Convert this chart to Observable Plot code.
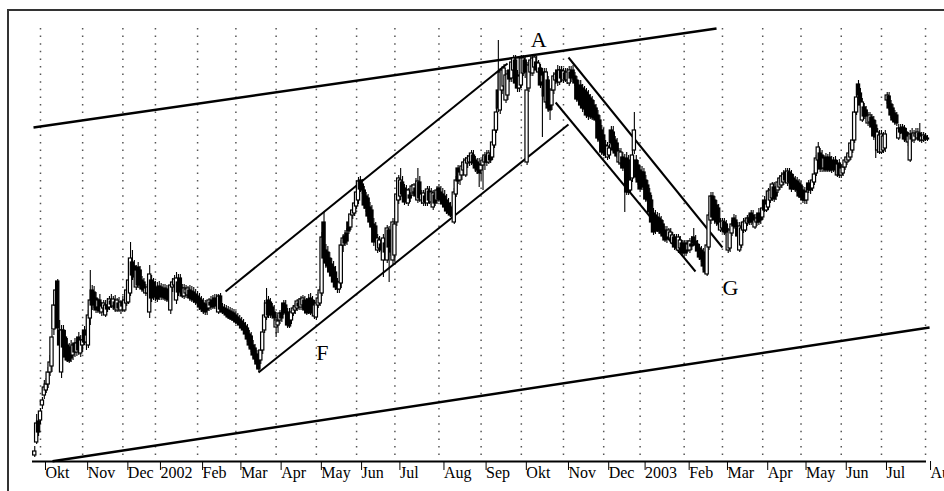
<!DOCTYPE html>
<html><head><meta charset="utf-8">
<script src="https://cdn.jsdelivr.net/npm/d3@7"></script>
<script src="https://cdn.jsdelivr.net/npm/@observablehq/plot@0.6"></script>
<style>
html,body{margin:0;padding:0;background:#fff;width:944px;height:491px;overflow:hidden;}
#frame{position:absolute;left:7px;top:9px;width:1200px;height:800px;border:2px solid #333;}
#chart{position:absolute;left:0;top:0;}
</style></head>
<body><div id="frame"></div><div id="chart"></div>
<script>
// Month tick labels and trading days per month (Okt 2001 .. Jul 2003); 3 September days precede
const monthLabels = ["Okt","Nov","Dec","2002","Feb","Mar","Apr","May","Jun","Jul","Aug","Sep","Okt","Nov","Dec","2003","Feb","Mar","Apr","May","Jun","Jul","Aug"];
const monthTradingDays = [22,21,17,22,20,21,21,21,20,23,22,21,22,21,19,23,20,21,20,21,21,23];
const leadingDays = 3;

// Daily OHLC (arbitrary price units), trading day index 0..466
const open = [
45,58,79,80,95,105,110,116,128,134,
171,195,219,170,128,170,163,155,150,153,
145,157,148,163,147,155,170,158,155,182,
210,208,202,193,200,188,192,185,195,193,
199,194,198,190,197,190,198,190,197,198,
207,238,234,213,233,230,220,218,207,207,
188,220,218,213,212,214,213,211,212,211,
210,190,213,215,200,218,222,212,204,207,
205,210,209,208,206,204,202,200,197,196,
194,192,198,200,202,200,188,204,193,192,
191,190,189,188,187,185,183,181,179,177,
174,172,166,164,155,152,146,145,140,150,
170,183,200,198,193,188,173,175,180,187,
197,195,188,186,180,187,190,192,197,193,
195,200,198,201,202,200,184,183,195,197,
207,278,250,248,242,236,233,228,218,211,
217,255,264,267,278,273,285,287,294,300,
320,316,310,304,302,293,290,276,274,250,
252,256,240,257,240,270,252,240,245,278,
300,304,318,312,310,297,305,307,308,312,
300,318,300,297,304,297,309,298,293,305,
300,312,308,306,304,300,297,293,290,278,
306,332,320,325,330,325,337,338,338,345,
340,338,336,330,335,338,344,338,345,343,
355,370,410,390,410,414,400,405,430,422,
430,440,425,412,415,427,440,338,412,428,
427,433,438,428,432,418,428,398,420,405,
395,410,420,430,418,430,420,427,420,417,
428,430,424,420,414,415,412,410,408,405,
402,400,395,392,385,380,370,365,355,343,
345,370,368,360,357,338,337,343,340,342,
340,310,322,350,340,335,330,328,328,320,
315,307,300,287,285,283,282,280,276,270,
268,263,262,257,263,262,250,252,257,256,
257,250,250,256,263,259,256,252,250,248,
242,226,253,280,304,300,295,292,270,272,
278,276,250,252,267,282,280,272,250,255,
270,270,277,282,287,285,273,278,287,285,
283,300,290,293,300,302,313,308,310,313,
315,318,328,317,328,326,322,320,319,317,
315,310,309,300,317,315,312,318,327,340,
347,345,332,343,342,343,340,339,340,325,
337,325,327,333,338,340,343,350,360,388,
416,407,380,393,390,377,378,383,380,375,
350,348,348,350,352,400,404,396,392,387,
385,362,372,373,372,368,358,340,366,360,
364,362,367,360,360,364,362];
const high = [
54,86,82,92,103,120,122,133,145,170,
200,215,221,180,175,175,170,162,157,160,
157,162,160,168,165,165,174,170,190,230,
215,214,208,202,206,198,200,200,202,204,
206,204,205,202,203,200,204,204,215,240,
258,250,240,235,238,234,224,222,216,217,
235,225,222,219,218,219,217,216,216,215,
215,218,222,225,228,226,226,216,216,215,
214,215,214,213,211,209,207,204,202,200,
200,202,204,205,206,206,206,207,197,196,
195,194,193,192,191,189,187,185,183,181,
178,176,170,168,160,156,150,148,152,172,
200,212,204,202,197,195,188,185,190,191,
200,200,192,192,190,195,197,201,202,204,
205,204,202,206,207,204,200,200,208,214,
268,288,256,254,248,242,239,234,222,220,
260,266,270,272,282,290,294,300,312,323,
324,321,314,308,306,298,295,282,278,266,
264,262,266,262,275,274,260,282,280,310,
325,332,324,316,315,312,312,316,317,322,
332,324,310,310,310,314,314,312,310,310,
314,316,314,312,310,306,302,298,295,312,
324,335,332,338,342,343,345,347,350,350,
344,342,342,340,344,348,350,350,352,360,
374,392,460,432,434,436,430,430,434,442,
445,445,430,428,445,445,444,438,440,444,
444,445,444,440,436,432,432,432,424,412,
415,428,430,435,434,434,432,432,432,434,
434,435,428,424,420,420,416,414,412,410,
406,404,400,396,390,385,375,372,360,358,
356,374,374,364,362,352,352,348,346,348,
345,324,350,388,345,340,334,334,332,325,
320,312,305,292,290,288,287,284,280,274,
274,272,272,268,266,266,266,264,260,260,
260,260,262,264,272,265,260,256,254,252,
248,260,288,308,308,304,300,296,282,282,
282,280,272,274,280,286,285,278,278,276,
282,282,285,286,290,290,286,286,292,290,
296,304,302,312,314,318,318,314,322,325,
328,330,332,332,332,330,326,324,323,321,
319,314,313,312,320,319,324,330,345,358,
352,350,345,347,346,348,344,343,344,340,
341,336,336,343,346,350,360,364,392,406,
420,412,402,397,394,388,388,386,384,380,
372,370,370,368,370,408,408,400,396,390,
388,376,376,376,375,372,368,370,372,370,
372,372,377,368,368,367,365];
const low = [
43,56,64,76,91,101,107,112,124,128,
165,190,168,148,122,150,140,138,137,138,
140,143,144,145,143,148,155,150,152,175,
190,192,187,187,186,184,187,183,188,190,
192,190,188,188,188,186,188,188,194,196,
204,220,220,210,212,212,208,207,204,203,
182,198,200,199,198,200,200,200,199,198,
198,186,208,210,196,204,206,202,201,202,
202,199,198,197,195,194,190,188,186,185,
185,189,190,191,191,190,186,188,186,185,
183,181,180,179,178,176,175,173,170,167,
163,158,152,148,142,138,132,128,136,146,
167,180,182,182,183,180,163,167,176,178,
185,184,172,172,176,184,186,189,190,190,
191,187,185,186,185,184,181,180,192,194,
204,238,232,232,225,220,215,210,207,207,
212,248,254,255,266,270,281,284,291,296,
308,306,291,288,281,275,270,254,254,247,
248,246,223,245,237,218,244,236,238,274,
296,300,302,295,296,294,298,304,304,300,
297,298,296,294,294,294,296,295,290,294,
296,298,296,293,290,286,285,283,282,276,
303,316,315,320,325,323,332,334,335,334,
328,326,313,320,310,330,334,336,337,340,
352,367,388,386,406,410,397,400,418,418,
426,414,408,408,412,424,422,335,408,424,
424,430,428,425,412,363,400,395,388,380,
390,406,416,414,415,418,417,418,416,414,
418,420,414,398,396,392,388,388,382,380,
381,380,380,378,358,357,345,344,342,340,
341,355,348,344,342,335,334,329,288,305,
305,306,318,346,320,315,308,310,310,298,
296,285,275,265,266,268,266,265,262,258,
257,260,259,254,250,251,247,248,244,244,
244,248,247,250,254,252,246,240,238,230,
226,224,250,276,280,276,274,272,268,268,
265,264,247,248,264,271,270,260,248,252,
267,268,274,275,275,276,271,274,275,276,
280,288,288,290,297,299,298,300,307,310,
312,315,318,314,315,308,310,308,307,302,
300,297,296,296,307,306,309,315,324,337,
328,328,328,328,328,328,327,328,328,323,
322,322,324,330,335,338,340,347,357,385,
402,392,378,381,381,374,375,371,360,342,
347,346,346,347,348,396,390,382,378,375,
374,360,366,365,358,358,354,338,358,357,
360,360,358,357,358,359,359];
const close = [
49,77,68,89,100,113,116,128,138,163,
195,210,172,155,170,153,143,140,139,142,
155,148,157,150,160,160,158,165,185,200,
195,196,190,200,189,194,197,195,191,201,
196,201,192,200,192,198,194,200,210,220,
242,225,223,230,215,216,211,210,212,213,
226,202,204,203,201,204,203,204,202,201,
200,215,218,221,222,208,209,204,212,211,
212,202,201,200,198,197,193,191,189,188,
190,200,195,193,194,195,204,191,188,187,
185,183,182,181,180,178,177,175,172,170,
166,161,155,151,145,141,136,131,150,168,
185,197,185,186,185,182,180,179,187,182,
187,188,175,174,188,192,194,199,194,201,
202,190,187,189,187,188,195,197,202,210,
263,242,237,234,228,224,218,213,211,218,
255,262,257,259,269,286,290,297,308,319,
311,310,295,292,284,278,273,258,260,262,
260,250,262,248,272,253,248,278,276,306,
322,320,306,298,299,310,302,314,315,304,
319,302,306,307,298,311,300,308,307,297,
310,301,300,296,293,289,287,285,284,308,
320,319,328,334,338,340,342,344,347,337,
332,330,327,335,340,345,338,347,340,358,
370,388,392,428,430,432,425,426,421,438,
442,417,412,424,442,442,428,410,435,440,
442,443,430,437,415,425,404,428,392,390,
410,424,426,418,430,422,429,421,428,430,
422,423,417,401,400,395,392,391,385,384,
384,383,382,380,362,360,348,347,345,354,
352,357,350,347,344,349,348,332,335,308,
308,320,345,370,323,318,311,314,313,301,
300,288,278,268,269,271,269,267,264,260,
261,270,268,265,253,254,263,260,247,248,
247,256,259,254,257,255,249,243,241,234,
228,255,285,304,283,280,278,276,278,279,
268,267,268,270,276,274,273,264,274,272,
278,279,282,278,278,279,280,282,278,280,
292,290,296,309,310,316,301,304,318,322,
324,326,320,329,318,311,313,311,310,304,
303,300,300,308,310,310,320,326,342,353,
331,332,342,330,331,330,330,331,330,336,
325,332,333,340,343,347,357,360,388,403,
405,395,398,384,384,384,385,373,364,363,
368,365,366,364,366,405,392,385,380,378,
377,372,368,367,361,360,364,366,361,367,
366,368,360,364,365,361,361];

// Long-term trend lines (start day, start price, end day, end price)
const longStartDay = [-0.65, 9.27];
const longStartPrice = [373, 39.3];
const longEndDay = [355.9, 467.1];
const longEndPrice = [472, 173];
// Channel lines (F up-channel, G down-channel)
const chanStartDay = [99.6, 116.8, 278.6, 271.9];
const chanStartPrice = [209, 128, 443, 398];
const chanEndDay = [246.8, 278.6, 359.0, 344.9];
const chanEndPrice = [437, 376, 253, 229];
// Pattern labels
const patternText = ["A", "F", "G"];
const patternDay = [263.0, 150.2, 363.2];
const patternPrice = [460.5, 148, 212.5];

// derived structures
const monthStarts = [];
{ let acc = leadingDays; monthLabels.forEach((m, k) => { monthStarts.push(acc); acc += (monthTradingDays[k] || 0); }); }
const labelOf = new Map(monthStarts.map((d, k) => [d, monthLabels[k]]));
const candles = open.map((o, i) => ({i, o, h: high[i], l: low[i], c: close[i]}));
const longLines = longStartDay.map((d, k) => ({x1: d, y1: longStartPrice[k], x2: longEndDay[k], y2: longEndPrice[k]}));
const chanLines = chanStartDay.map((d, k) => ({x1: d, y1: chanStartPrice[k], x2: chanEndDay[k], y2: chanEndPrice[k]}));
const labels = patternText.map((t, k) => ({t, x: patternDay[k], y: patternPrice[k]}));
const yBase = 39, yGridTop = 472;

const chart = Plot.plot({
  width: 944, height: 491,
  marginLeft: 32, marginRight: 18, marginTop: 9, marginBottom: 30,
  style: {fontFamily: "'Liberation Serif', serif", fontSize: "16px", background: "transparent", color: "#000"},
  x: {type: "linear", domain: [-1.175, 465.5], axis: null},
  y: {domain: [yBase, 491], axis: null},
  marks: [
    Plot.ruleX(monthStarts, {x: d => d, y1: yGridTop, y2: yBase, stroke: "#555", strokeWidth: 1.5, strokeDasharray: "1.5,6.1"}),
    Plot.link(longLines, {x1: "x1", y1: "y1", x2: "x2", y2: "y2", stroke: "#000", strokeWidth: 2.5}),
    Plot.link(chanLines, {x1: "x1", y1: "y1", x2: "x2", y2: "y2", stroke: "#000", strokeWidth: 2}),
    Plot.ruleX(candles, {x: "i", y1: "l", y2: "h", stroke: "#000", strokeWidth: 1.1}),
    Plot.rect(candles, {x1: d => d.i - 0.85, x2: d => d.i + 0.85, y1: "o", y2: "c",
      fill: d => d.c >= d.o ? "#fff" : "#000", stroke: "#000", strokeWidth: 1.2}),
    Plot.text(labels, {x: "x", y: "y", text: "t", fontSize: 22, fill: "#000"}),
    Plot.ruleY([yBase], {stroke: "#000", strokeWidth: 2}),
    Plot.axisX(monthStarts, {tickSize: 9, tickPadding: -4, textAnchor: "start", dx: 5,
      tickFormat: d => labelOf.get(d), fontSize: 16, stroke: "#000"})
  ]
});
document.getElementById("chart").appendChild(chart);
</script>
</body></html>
